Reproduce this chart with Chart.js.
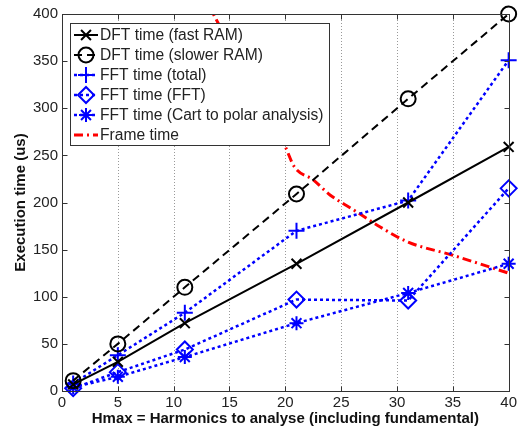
<!DOCTYPE html>
<html>
<head>
<meta charset="utf-8">
<script src="https://cdn.jsdelivr.net/npm/chart.js@4/dist/chart.umd.min.js"></script>
<style>
  html, body { margin: 0; padding: 0; background: #fff; }
  #wrap { width: 520px; height: 429px; }
</style>
</head>
<body>
<div id="wrap"><canvas id="timingChart" width="520" height="429"></canvas></div>
<script>
// harmonics tested and measured times (us)
const harmonics = [1, 5, 11, 21, 31, 40];
const dftFast  = [7, 31, 72, 135, 200, 259];
const dftSlow  = [11, 50, 110, 209, 310, 400];
const fftTotal = [8, 38, 83, 170, 202, 351];
const fftCore  = [3, 20, 44, 97, 96, 215];
const fftCart  = [4, 15, 36, 72, 104, 135];

// frame time curve
const frameH = [13, 14, 16, 18, 20, 20.8, 22.5, 24, 26, 28.5, 31, 35, 40];
const frameT = [412, 390, 345, 300, 259, 238, 224, 208, 193, 174, 158, 144, 125];

const xTicks = [0, 5, 10, 15, 20, 25, 30, 35, 40];
const yTicks = [0, 50, 100, 150, 200, 250, 300, 350, 400];

const pts = (xs, ys) => xs.map((x, i) => ({ x: x, y: ys[i] }));

const BLUE = '#0000ff';
const blueDots = [3, 3];

const datasets = [
  { label: 'DFT time (fast RAM)', data: pts(harmonics, dftFast),
    borderColor: '#000', borderWidth: 2, pointStyle: 'crossRot', pointRadius: 7,
    pointBorderWidth: 2, pointBorderColor: '#000', clip: false },
  { label: 'DFT time (slower RAM)', data: pts(harmonics, dftSlow),
    borderColor: '#000', borderWidth: 2, borderDash: [8, 5], pointStyle: 'circle', pointRadius: 7.5,
    pointBorderWidth: 2, pointBorderColor: '#000', pointBackgroundColor: 'rgba(0,0,0,0)', clip: false },
  { label: 'FFT time (total)', data: pts(harmonics, fftTotal),
    borderColor: BLUE, borderWidth: 2.5, borderDash: blueDots, pointStyle: 'cross', pointRadius: 8,
    pointBorderWidth: 2, pointBorderColor: BLUE, clip: false },
  { label: 'FFT time (FFT)', data: pts(harmonics, fftCore),
    borderColor: BLUE, borderWidth: 2.5, borderDash: blueDots, pointStyle: 'rectRot', pointRadius: 8,
    pointBorderWidth: 2, pointBorderColor: BLUE, pointBackgroundColor: 'rgba(0,0,0,0)', clip: false },
  { label: 'FFT time (Cart to polar analysis)', data: pts(harmonics, fftCart),
    borderColor: BLUE, borderWidth: 2.5, borderDash: blueDots, pointStyle: 'star', pointRadius: 7,
    pointBorderWidth: 2, pointBorderColor: BLUE, clip: false },
  { label: 'Frame time', data: pts(frameH, frameT),
    borderColor: '#ff0000', borderWidth: 3, borderDash: [9, 4, 2, 4], pointRadius: 0,
    cubicInterpolationMode: 'monotone' }
];

const tickFont = { family: 'Liberation Sans, Arial', size: 15 };
const titleFont = { family: 'Liberation Sans, Arial', size: 15, weight: 'bold' };

// matlab style frame: dotted x grid, box, inward ticks, legend box
const frame = {
  id: 'frame',
  beforeDatasetsDraw(chart) {
    const { ctx, chartArea: a, scales } = chart;
    ctx.save();
    ctx.strokeStyle = '#999';
    ctx.lineWidth = 1;
    ctx.setLineDash([1, 2]);
    xTicks.slice(1, -1).forEach(v => {
      const px = Math.round(scales.x.getPixelForValue(v)) + 0.5;
      ctx.beginPath();
      ctx.moveTo(px, a.top);
      ctx.lineTo(px, a.bottom);
      ctx.stroke();
    });
    ctx.restore();
  },
  afterDatasetsDraw(chart) {
    const { ctx, chartArea: a, scales } = chart;
    ctx.save();
    // legend
    const lx = 70.5, ly = 23.5, lw = 259, lh = 122;
    ctx.fillStyle = '#fff';
    ctx.fillRect(lx, ly, lw, lh);
    ctx.strokeStyle = '#333';
    ctx.lineWidth = 1;
    ctx.strokeRect(lx, ly, lw, lh);
    ctx.font = '15.6px "Liberation Sans", Arial';
    ctx.textBaseline = 'middle';
    chart.data.datasets.forEach((ds, i) => {
      const y = 35 + i * 20;
      ctx.save();
      ctx.strokeStyle = ds.borderColor;
      ctx.lineWidth = ds.borderWidth;
      ctx.setLineDash(ds.borderDash || []);
      ctx.beginPath();
      ctx.moveTo(74, y);
      ctx.lineTo(98, y);
      ctx.stroke();
      ctx.setLineDash([]);
      if (ds.pointRadius > 0) {
        ctx.strokeStyle = ds.pointBorderColor;
        ctx.fillStyle = ds.pointBackgroundColor || 'rgba(0,0,0,0)';
        ctx.lineWidth = ds.pointBorderWidth;
        Chart.helpers.drawPoint(ctx, { pointStyle: ds.pointStyle, radius: ds.pointRadius,
          borderWidth: ds.pointBorderWidth, rotation: 0 }, 86, y);
      }
      ctx.restore();
      ctx.fillStyle = '#222';
      ctx.fillText(ds.label, 100, y + 1);
    });
    // box and ticks
    ctx.strokeStyle = '#333';
    ctx.lineWidth = 1;
    ctx.setLineDash([]);
    const L = Math.round(a.left) + 0.5, R = Math.round(a.right) + 0.5;
    const T = Math.round(a.top) + 0.5, B = Math.round(a.bottom) + 0.5;
    ctx.strokeRect(L, T, R - L, B - T);
    ctx.beginPath();
    xTicks.forEach(v => {
      const px = Math.round(scales.x.getPixelForValue(v)) + 0.5;
      ctx.moveTo(px, B); ctx.lineTo(px, B - 5);
      ctx.moveTo(px, T); ctx.lineTo(px, T + 5);
    });
    yTicks.forEach(v => {
      const py = Math.round(scales.y.getPixelForValue(v)) + 0.5;
      ctx.moveTo(L, py); ctx.lineTo(L + 5, py);
      ctx.moveTo(R, py); ctx.lineTo(R - 5, py);
    });
    ctx.stroke();
    ctx.restore();
  }
};

new Chart(document.getElementById('timingChart').getContext('2d'), {
  type: 'scatter',
  data: { datasets: datasets },
  options: {
    responsive: false,
    animation: false,
    showLine: true,
    layout: { padding: { top: 14, right: 11, left: 0, bottom: 0 } },
    elements: { line: { tension: 0, fill: false } },
    plugins: { legend: { display: false }, tooltip: { enabled: false } },
    scales: {
      x: {
        type: 'linear', min: 0, max: 40,
        afterFit: s => { s.height = 38; },
        afterBuildTicks: s => { s.ticks = xTicks.map(v => ({ value: v })); },
        ticks: { font: tickFont, color: '#222', padding: 3, maxRotation: 0 },
        grid: { display: false, drawTicks: false },
        border: { display: false },
        title: { display: true, text: 'Hmax = Harmonics to analyse (including fundamental)',
          font: titleFont, color: '#111', padding: { top: 0, bottom: 1 } }
      },
      y: {
        type: 'linear', min: 0, max: 400,
        afterFit: s => { s.width = 62; },
        afterBuildTicks: s => { s.ticks = yTicks.map(v => ({ value: v })); },
        ticks: { font: tickFont, color: '#222', padding: 4 },
        grid: { display: false, drawTicks: false },
        border: { display: false },
        title: { display: true, text: 'Execution time (us)',
          font: titleFont, color: '#111', padding: { top: 12, bottom: 0 } }
      }
    }
  },
  plugins: [frame]
});
</script>
</body>
</html>
